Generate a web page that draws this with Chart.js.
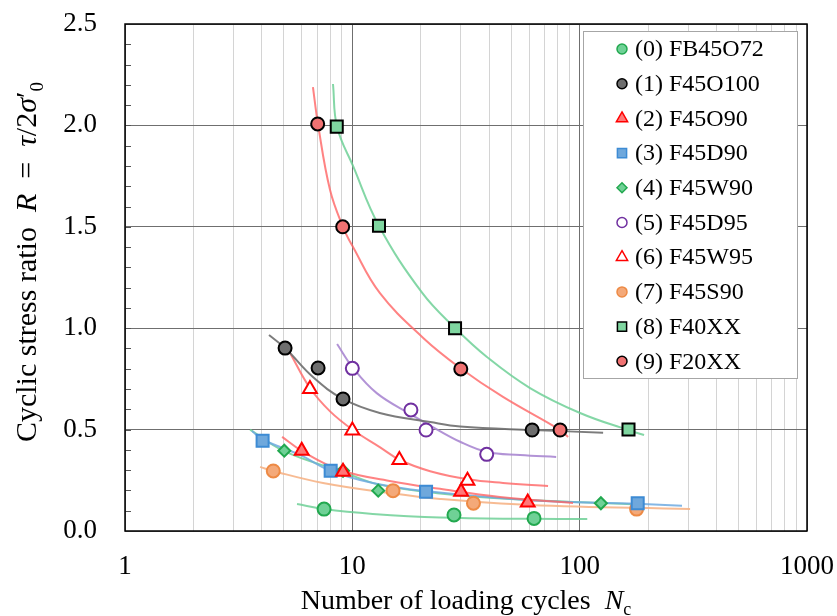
<!DOCTYPE html>
<html>
<head>
<meta charset="utf-8">
<script src="https://cdn.jsdelivr.net/npm/chart.js@4.4.1/dist/chart.umd.min.js"></script>
<style>
  html, body { margin: 0; padding: 0; background: #ffffff; }
  #wrap { width: 837px; height: 616px; }
</style>
</head>
<body>
<div id="wrap"><canvas id="c" width="837" height="616"></canvas></div>
<script>
// ---------- data ----------
const seriesLabels = ['(0) FB45O72', '(1) F45O100', '(2) F45O90', '(3) F45D90', '(4) F45W90',
                      '(5) F45D95', '(6) F45W95', '(7) F45S90', '(8) F40XX', '(9) F20XX'];

const xTickValues = [1, 10, 100, 1000];
const xTickLabels = ['1', '10', '100', '1000'];
const yTickValues = [0, 0.5, 1.0, 1.5, 2.0, 2.5];
const yTickLabels = ['0.0', '0.5', '1.0', '1.5', '2.0', '2.5'];

// measured points (Nc, R)
const p0N = [7.51, 28.0, 63.0],        p0R = [0.108, 0.079, 0.062];
const p1N = [5.06, 7.07, 9.10, 61.8],  p1R = [0.902, 0.804, 0.651, 0.498];
const p2N = [5.99, 9.10, 30.1, 59.1],  p2R = [0.396, 0.292, 0.194, 0.141];
const p3N = [4.03, 8.03, 21.1, 180],   p3R = [0.445, 0.297, 0.194, 0.137];
const p4N = [5.02, 9.10, 13.0, 124],   p4R = [0.396, 0.297, 0.199, 0.137];
const p5N = [10.0, 18.1, 21.1, 39.0],  p5R = [0.802, 0.597, 0.498, 0.378];
const p6N = [6.51, 10.0, 16.1, 32.1],  p6R = [0.700, 0.495, 0.350, 0.248];
const p7N = [4.49, 15.1, 34.1, 178],   p7R = [0.296, 0.199, 0.137, 0.108];
const p8N = [8.54, 13.1, 28.3, 164],   p8R = [1.994, 1.505, 1.000, 0.501];
const p9N = [7.04, 9.07, 30.0, 82.0],  p9R = [2.007, 1.500, 0.799, 0.498];

// fitted curves (Nc, R)
const c0N = [5.71, 7.5, 12.3, 24.3, 60.5, 108];
const c0R = [0.133, 0.108, 0.084, 0.066, 0.060, 0.059];
const c1N = [4.30, 5.06, 6.71, 9.10, 13.2, 22.0, 29.8, 62.4, 126.8];
const c1R = [0.966, 0.902, 0.759, 0.651, 0.582, 0.537, 0.515, 0.498, 0.485];
const c2N = [4.91, 6.01, 8.83, 14.6, 24.3, 44.6, 93.5];
const c2R = [0.464, 0.394, 0.301, 0.247, 0.208, 0.168, 0.138];
const c3N = [3.62, 4.05, 5.89, 8.06, 12.3, 20.9, 60.5, 179, 282];
const c3R = [0.493, 0.450, 0.375, 0.296, 0.237, 0.197, 0.152, 0.134, 0.125];
const c4N = [3.55, 5.01, 9.1, 13.0, 24.3, 54.7, 123, 190];
const c4R = [0.500, 0.394, 0.291, 0.230, 0.185, 0.155, 0.138, 0.130];
const c5N = [8.57, 10.07, 12.8, 18.1, 22.0, 29.8, 39.1, 54.7, 78.8];
const c5R = [0.922, 0.804, 0.680, 0.575, 0.520, 0.440, 0.390, 0.375, 0.365];
const c6N = [5.32, 6.51, 7.98, 10.07, 13.2, 16.2, 22.0, 32.3, 46.0, 72.6];
const c6R = [0.878, 0.705, 0.590, 0.498, 0.414, 0.350, 0.295, 0.255, 0.237, 0.222];
const c7N = [3.93, 4.48, 7.43, 14.6, 24.3, 60.5, 306];
const c7R = [0.316, 0.296, 0.237, 0.187, 0.158, 0.128, 0.108];
const c8N = [8.22, 8.57, 10.07, 13.1, 20.3, 28.3, 39.1, 60.5, 100.4, 163, 192];
const c8R = [2.204, 1.992, 1.800, 1.504, 1.174, 1.001, 0.858, 0.705, 0.582, 0.498, 0.473];
const c9N = [6.71, 7.06, 7.98, 9.10, 10.07, 13.2, 20.5, 29.8, 46.0, 82.0, 88.9];
const c9R = [2.189, 2.007, 1.681, 1.499, 1.400, 1.174, 0.952, 0.804, 0.661, 0.498, 0.464];

// ---------- styles ----------
const styles = [
  { shape: 'circle',   r: 6.5, fill: '#6fd196', stroke: '#22a84f', line: 'rgba(110,208,150,0.85)' },
  { shape: 'circle',   r: 6.5, fill: '#6e6e6e', stroke: '#000000', line: 'rgba(110,110,110,0.9)' },
  { shape: 'triangle', r: 8,   fill: '#ff7878', stroke: '#ff0000', line: 'rgba(255,100,100,0.8)' },
  { shape: 'rect',     r: 8.5, fill: '#6fa8dc', stroke: '#3d8bd4', line: 'rgba(110,170,225,0.85)' },
  { shape: 'rectRot',  r: 6,   fill: '#6fd196', stroke: '#22a84f', line: 'rgba(110,208,150,0.85)' },
  { shape: 'circle',   r: 6.5, fill: '#ffffff', stroke: '#7030a0', line: 'rgba(170,135,210,0.9)' },
  { shape: 'triangle', r: 8,   fill: '#ffffff', stroke: '#ff0000', line: 'rgba(255,100,100,0.8)' },
  { shape: 'circle',   r: 6.5, fill: '#f4a979', stroke: '#ed8a45', line: 'rgba(246,180,135,0.9)' },
  { shape: 'rect',     r: 8.5, fill: '#7fd6a0', stroke: '#000000', line: 'rgba(110,208,150,0.85)' },
  { shape: 'circle',   r: 6.5, fill: '#f07272', stroke: '#000000', line: 'rgba(255,100,100,0.8)' }
];

const pointN = [p0N, p1N, p2N, p3N, p4N, p5N, p6N, p7N, p8N, p9N];
const pointR = [p0R, p1R, p2R, p3R, p4R, p5R, p6R, p7R, p8R, p9R];
const curveN = [c0N, c1N, c2N, c3N, c4N, c5N, c6N, c7N, c8N, c9N];
const curveR = [c0R, c1R, c2R, c3R, c4R, c5R, c6R, c7R, c8R, c9R];

const zip = (xs, ys) => xs.map((x, i) => ({ x: x, y: ys[i] }));

const datasets = [];
for (let i = 0; i < 10; i++) {
  datasets.push({
    type: 'line',
    label: seriesLabels[i] + ' fit',
    data: zip(curveN[i], curveR[i]),
    borderColor: styles[i].line,
    borderWidth: 2,
    pointRadius: 0,
    fill: false,
    tension: 0.4,
    order: 2
  });
}
for (let i = 0; i < 10; i++) {
  datasets.push({
    type: 'scatter',
    label: seriesLabels[i],
    data: zip(pointN[i], pointR[i]),
    pointStyle: styles[i].shape,
    pointRadius: styles[i].r,
    pointBackgroundColor: styles[i].fill,
    pointBorderColor: styles[i].stroke,
    pointBorderWidth: 2,
    order: 1
  });
}

const SERIF = '"Liberation Serif", "Times New Roman", serif';

const decor = {
  id: 'decor',
  beforeDatasetsDraw(chart) {
    const { ctx, chartArea: a, scales } = chart;
    ctx.save();
    ctx.strokeStyle = '#555';
    ctx.lineWidth = 1;
    for (let k = 1; k < 25; k++) {
      const y = Math.round(scales.y.getPixelForValue(k / 10)) + 0.5;
      ctx.beginPath();
      ctx.moveTo(a.left, y);
      ctx.lineTo(a.left + 6, y);
      ctx.stroke();
    }
    ctx.restore();
  },
  afterDraw(chart) {
    const { ctx, chartArea: a } = chart;
    ctx.save();
    ctx.strokeStyle = '#000';
    ctx.lineWidth = 1.5;
    ctx.strokeRect(a.left, a.top, a.right - a.left, a.bottom - a.top);

    const drawPieces = (pieces, cx, baseY) => {
      let total = 0;
      pieces.forEach(p => { ctx.font = p.font; total += ctx.measureText(p.t).width; });
      let x = cx - total / 2;
      pieces.forEach(p => {
        ctx.font = p.font;
        ctx.fillText(p.t, x, baseY + (p.dy || 0));
        x += ctx.measureText(p.t).width;
      });
    };
    ctx.fillStyle = '#000';
    ctx.textBaseline = 'alphabetic';
    ctx.textAlign = 'left';
    const N = '28px ' + SERIF, I = 'italic 28px ' + SERIF, S = '18px ' + SERIF;

    drawPieces([
      { t: 'Number of loading cycles  ', font: N },
      { t: 'N', font: I },
      { t: 'c', font: S, dy: 6 }
    ], (a.left + a.right) / 2, 609);

    const NY = '30px ' + SERIF, IY = 'italic 30px ' + SERIF, SY = '19px ' + SERIF;
    ctx.save();
    ctx.translate(36, 262);
    ctx.rotate(-Math.PI / 2);
    drawPieces([
      { t: 'Cyclic stress ratio  ', font: NY },
      { t: 'R', font: IY },
      { t: '  =  ', font: NY },
      { t: 'τ', font: IY },
      { t: '/', font: NY },
      { t: '2', font: NY },
      { t: 'σ', font: IY },
      { t: '′', font: NY },
      { t: '0', font: SY, dy: 7 }
    ], 0, 0);
    ctx.restore();

    const lx = 583, ly = 31, lw = 214, lh = 347;
    ctx.fillStyle = '#fff';
    ctx.fillRect(lx, ly, lw, lh);
    ctx.strokeStyle = '#a6a6a6';
    ctx.lineWidth = 1;
    ctx.strokeRect(lx + 0.5, ly + 0.5, lw, lh);
    ctx.font = '24px ' + SERIF;
    ctx.textBaseline = 'middle';
    for (let i = 0; i < 10; i++) {
      const cy = 49 + i * 34.7;
      const st = styles[i];
      ctx.fillStyle = st.fill;
      ctx.strokeStyle = st.stroke;
      ctx.lineWidth = 1.5;
      const rr = st.shape === 'rect' ? 6.5 : (st.shape === 'triangle' ? 6.5 : 5);
      Chart.helpers.drawPoint(ctx, { pointStyle: st.shape, radius: rr, rotation: 0, borderWidth: 1.5 }, 622, cy);
      ctx.fillStyle = '#000';
      ctx.fillText(seriesLabels[i], 635, cy + 1);
    }
    ctx.restore();
  }
};

new Chart(document.getElementById('c'), {
  data: { datasets: datasets },
  options: {
    responsive: false,
    animation: false,
    layout: { padding: { left: 0, right: 30, top: 24, bottom: 0 } },
    plugins: { legend: { display: false }, tooltip: { enabled: false } },
    scales: {
      x: {
        type: 'logarithmic',
        min: 1, max: 1000,
        afterBuildTicks(scale) {
          const t = [];
          for (let d = 1; d < 1000; d *= 10) {
            for (let m = 1; m < 10; m++) t.push({ value: m * d });
          }
          t.push({ value: 1000 });
          scale.ticks = t;
        },
        afterFit(scale) { scale.height = 85; scale.paddingLeft = 0; scale.paddingRight = 0; },
        ticks: {
          autoSkip: false, maxRotation: 0, minRotation: 0,
          padding: 20,
          color: '#000',
          font: { family: SERIF, size: 27 },
          callback(value) {
            const idx = xTickValues.findIndex(v => Math.abs(v - value) < 1e-9);
            return idx >= 0 ? xTickLabels[idx] : '';
          }
        },
        grid: {
          drawTicks: false,
          lineWidth: 1,
          color(ctx) {
            const v = ctx.tick ? ctx.tick.value : 0;
            const lg = Math.log10(v);
            return Math.abs(lg - Math.round(lg)) < 1e-9 ? '#6f6f6f' : '#d4d4d4';
          }
        },
        border: { display: false }
      },
      y: {
        type: 'linear',
        min: 0, max: 2.5,
        afterBuildTicks(scale) { scale.ticks = yTickValues.map(v => ({ value: v })); },
        afterFit(scale) { scale.width = 125; scale.paddingTop = 0; scale.paddingBottom = 0; },
        ticks: {
          autoSkip: false,
          padding: 28,
          color: '#000',
          font: { family: SERIF, size: 27 },
          callback(value, index) { return yTickLabels[index]; }
        },
        grid: { drawTicks: false, color: '#6f6f6f', lineWidth: 1 },
        border: { display: false }
      }
    }
  },
  plugins: [decor]
});
</script>
</body>
</html>
